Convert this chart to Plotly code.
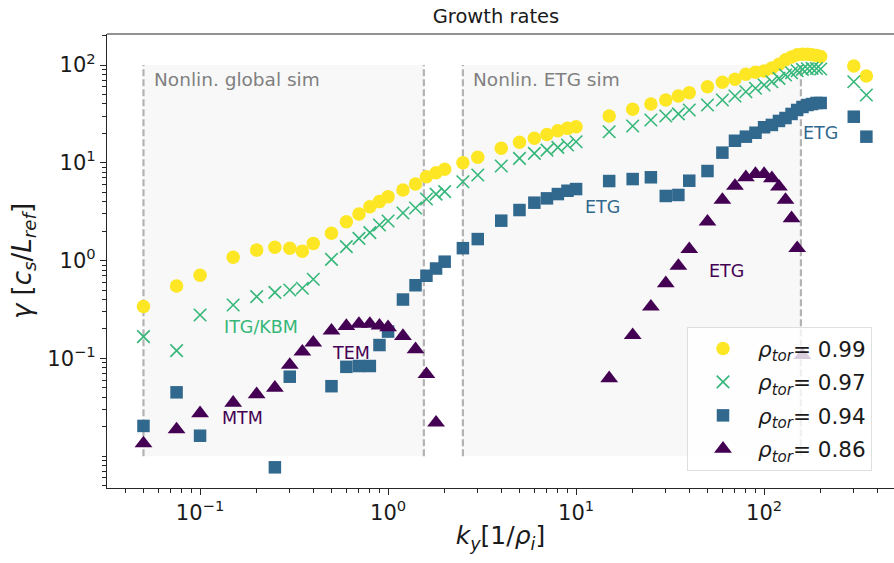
import numpy as np
import plotly.graph_objects as go

# ---------------- data ----------------
ky_full = [0.05, 0.075, 0.1, 0.15, 0.2, 0.25, 0.3, 0.35, 0.4, 0.5, 0.6, 0.7, 0.8, 0.9, 1.0,
           1.2, 1.4, 1.6, 1.8, 2.0, 2.5, 3, 4, 5, 6, 7, 8, 9, 10, 15, 20, 25, 30, 35, 40,
           50, 60, 70, 80, 90, 100, 110, 120, 130, 140, 150, 160, 170, 180, 190, 200, 300, 350]

gamma_099 = [0.34, 0.55, 0.71, 1.08, 1.28, 1.37, 1.34, 1.25, 1.50, 1.90, 2.50, 3.0, 3.56, 4.01, 4.51,
             5.28, 6.07, 7.21, 7.92, 8.61, 10.0, 11.4, 14.1, 16.2, 17.8, 19.5, 21.3, 22.5, 23.4,
             30.1, 35.3, 39.9, 43.9, 48.2, 52.1, 60.0, 66.5, 71.4, 80.4, 84.2, 86.8,
             93, 102, 113, 121, 127, 129, 129, 127, 125, 122, 97.7, 77.2]

gamma_097 = [0.167, 0.12, 0.278, 0.352, 0.428, 0.474, 0.50, 0.521, 0.644, 1.03, 1.39, 1.69, 1.93, 2.31, 2.54,
             3.07, 3.45, 4.26, 4.79, 5.07, 6.41, 7.50, 9.27, 11.1, 12.5, 13.5, 14.4, 15.2, 16.4,
             20.8, 23.8, 27.4, 30.1, 31.6, 34.7, 39.0, 43.9, 48.2, 53.3, 57.8, 62.5,
             67.5, 73.1, 79.1, 83.4, 87.4, 90.3, 91.6, 92.5, 92, 91, 67.5, 49.3]

ky_094 = [0.05, 0.075, 0.1, 0.25, 0.3, 0.5, 0.6, 0.7, 0.8, 0.9, 1.0, 1.2, 1.4, 1.6, 1.8, 2.0,
          2.5, 3, 4, 5, 6, 7, 8, 9, 10, 15, 20, 25, 30, 35, 40, 50, 60, 70, 80, 90, 100,
          110, 120, 130, 140, 150, 160, 170, 180, 190, 200, 300, 350]
gamma_094 = [0.0204, 0.045, 0.0162, 0.0077, 0.065, 0.052, 0.082, 0.0836, 0.0836, 0.137, 0.188,
             0.40, 0.56, 0.70, 0.83, 0.975, 1.34, 1.66, 2.56, 3.29, 3.91, 4.33, 4.79, 5.18, 5.39,
             6.51, 6.82, 7.11, 4.58, 4.69, 6.56, 8.24, 12.7, 16.8, 18.5, 20.3, 23.1,
             24.4, 26.8, 28.7, 31.6, 34.7, 37.2, 39.0, 39.9, 40.9, 40.9, 29.6, 18.5]

ky_086 = [0.05, 0.075, 0.1, 0.15, 0.2, 0.25, 0.3, 0.35, 0.4, 0.5, 0.6, 0.7, 0.8, 0.9, 1.0,
          1.2, 1.4, 1.6, 1.8, 15, 20, 25, 30, 35, 40, 50, 60, 70, 80, 90, 100, 110, 120,
          130, 140, 150, 160]
gamma_086 = [0.0135, 0.0188, 0.0275, 0.0352, 0.043, 0.050, 0.0857, 0.117, 0.145, 0.192, 0.214,
             0.225, 0.225, 0.216, 0.208, 0.169, 0.124, 0.069, 0.022,
             0.0626, 0.173, 0.338, 0.586, 0.881, 1.31, 2.50, 4.17, 5.80, 7.11, 7.68, 7.68,
             6.94, 5.70, 4.17, 2.71, 1.34, 0.108]

legend_names = ["0.99", "0.97", "0.94", "0.86"]

# simulation windows (ky ranges) and vertical extent
global_sim = [0.05, 1.55]
etg_sim = [2.5, 157]
window_gamma = [0.01, 100]

x_tickvals = [0.1, 1, 10, 100]
x_ticktext = ["10<sup>−1</sup>", "10<sup>0</sup>", "10<sup>1</sup>", "10<sup>2</sup>"]
y_tickvals = [0.1, 1, 10, 100]
y_ticktext = ["10<sup>−1</sup>", "10<sup>0</sup>", "10<sup>1</sup>", "10<sup>2</sup>"]

# ---------------- figure ----------------
C_Y = "#fde725"
C_G = "#35b779"
C_B = "#31688e"
C_P = "#440154"
FONT = "DejaVu Sans"
INK = "#1a1a1a"

fig = go.Figure()

for (lo, hi) in (global_sim, etg_sim):
    fig.add_trace(go.Scatter(
        x=[lo, hi, hi, lo, lo],
        y=[window_gamma[0], window_gamma[0], window_gamma[1], window_gamma[1], window_gamma[0]],
        mode="lines", fill="toself", fillcolor="rgba(128,128,128,0.06)",
        line=dict(width=0), hoverinfo="skip", showlegend=False))
    for xv in (lo, hi):
        fig.add_trace(go.Scatter(
            x=[xv, xv], y=window_gamma, mode="lines",
            line=dict(color="#b3b3b3", width=2.2, dash="7px,3px"),
            hoverinfo="skip", showlegend=False))

def lname(v):
    return "<i>ρ</i><sub><i>tor</i></sub>= " + v

fig.add_trace(go.Scatter(x=ky_full, y=gamma_099, mode="markers", name=lname(legend_names[0]),
                         legendgroup="a",
                         marker=dict(symbol="circle", size=13.5, color=C_Y, line=dict(width=0))))
fig.add_trace(go.Scatter(x=ky_full, y=gamma_097, mode="markers", name=lname(legend_names[1]),
                         legendgroup="b",
                         marker=dict(symbol="x-thin", size=12.5, color=C_G, line=dict(width=1.6, color=C_G))))
fig.add_trace(go.Scatter(x=ky_094, y=gamma_094, mode="markers", name=lname(legend_names[2]),
                         legendgroup="c",
                         marker=dict(symbol="square", size=12.5, color=C_B, line=dict(width=0))))
fig.add_trace(go.Scatter(x=ky_086, y=gamma_086, mode="markers", name=lname(legend_names[3]),
                         legendgroup="d",
                         marker=dict(symbol="triangle-up", size=15.5, color=C_P, line=dict(width=0))))

def ann(text, x, y, color, size, xanchor="center"):
    fig.add_annotation(text=text, x=np.log10(x), y=np.log10(y), xref="x", yref="y",
                       showarrow=False, xanchor=xanchor, yanchor="middle",
                       font=dict(family=FONT, size=size, color=color))

ann("Nonlin. global sim", 0.0556, 70.3, "#808080", 18.5, "left")
ann("Nonlin. ETG sim", 2.76, 70.3, "#808080", 18.5, "left")
ann("ITG/KBM", 0.211, 0.211, C_G, 17.5)
ann("MTM", 0.169, 0.0244, C_P, 17.5)
ann("TEM", 0.632, 0.114, C_P, 17.5)
ann("ETG", 13.8, 3.56, C_B, 17.5)
ann("ETG", 62.8, 0.789, C_P, 17.5)
ann("ETG", 200, 20, C_B, 17.5)

# top spine (right spine lies outside the cropped picture)
fig.add_shape(type="line", xref="paper", yref="paper", x0=0, x1=1, y0=1, y1=1,
              line=dict(color="#262626", width=1.2))

fig.update_layout(
    width=894, height=563,
    margin=dict(l=107, r=0, t=34, b=75),
    paper_bgcolor="white", plot_bgcolor="white",
    font=dict(family=FONT, color=INK),
    title=dict(text="Growth rates", x=496 / 894, xref="container", xanchor="center",
               y=1 - 16 / 563, yanchor="middle",
               font=dict(family=FONT, size=19.5, color=INK)),
    showlegend=True,
    legend=dict(x=(687 - 107) / 787, y=(488 - 327) / 454, xanchor="left", yanchor="top",
                itemwidth=60, traceorder="grouped", tracegroupgap=2.5,
                bgcolor="rgba(255,255,255,0.8)", bordercolor="rgba(215,215,215,0.8)", borderwidth=1,
                font=dict(family=FONT, size=21.5, color=INK)),
)

fig.update_xaxes(type="log", range=[-1.495, 2.691],
                 tickvals=x_tickvals, ticktext=x_ticktext,
                 ticks="outside", ticklen=6, tickwidth=1.2, tickcolor="#262626",
                 minor=dict(ticks="outside", ticklen=3.5, tickwidth=1, tickcolor="#262626", dtick="D1", showgrid=False),
                 showline=True, linecolor="#262626", linewidth=1.2, showgrid=False, zeroline=False,
                 tickfont=dict(family=FONT, size=21, color=INK),
                 title=dict(text="<i>k<sub>y</sub></i>[1/<i>ρ<sub>i</sub></i>]", standoff=2,
                            font=dict(family=FONT, size=25, color=INK)))
fig.update_yaxes(type="log", range=[-2.325, 2.317],
                 tickvals=y_tickvals, ticktext=y_ticktext,
                 ticks="outside", ticklen=6, tickwidth=1.2, tickcolor="#262626",
                 minor=dict(ticks="outside", ticklen=3.5, tickwidth=1, tickcolor="#262626", dtick="D1", showgrid=False),
                 showline=True, linecolor="#262626", linewidth=1.2, showgrid=False, zeroline=False,
                 tickfont=dict(family=FONT, size=21, color=INK),
                 title=dict(text="<i>γ</i> [<i>c<sub>s</sub></i>/<i>L<sub>ref</sub></i>]", standoff=8,
                            font=dict(family=FONT, size=26, color=INK)))

fig.write_html("out.html")
